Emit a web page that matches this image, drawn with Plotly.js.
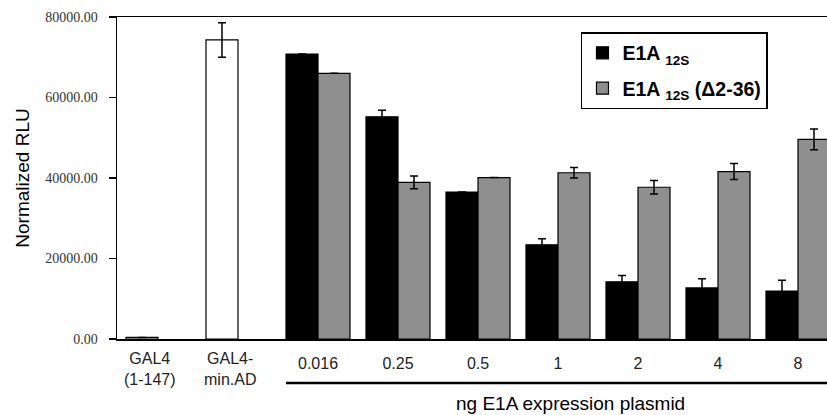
<!DOCTYPE html>
<html>
<head>
<meta charset="utf-8">
<script src="https://cdn.plot.ly/plotly-3.0.1.min.js"></script>
<style>html,body{margin:0;padding:0;background:#fff;}#chart{width:827px;height:415px;}</style>
</head>
<body>
<div id="chart"></div>
<script>
// ---- data ----
const categories = ['GAL4<br>(1-147)', 'GAL4-<br>min.AD', '0.016', '0.25', '0.5', '1', '2', '4', '8'];
const controlCats = ['GAL4<br>(1-147)', 'GAL4-<br>min.AD'];
const controlValues = [400, 74300];
const controlErr = [0, 4300];
const doseCats = ['0.016', '0.25', '0.5', '1', '2', '4', '8'];
const wtName = '<b>E1A <sub>12S</sub></b>';
const wtValues = [70800, 55200, 36500, 23400, 14200, 12700, 11900];
const wtErr = [0, 1650, 0, 1500, 1600, 2300, 2700];
const delName = '<b>E1A <sub>12S</sub> (\u03942-36)</b>';
const delValues = [66000, 38900, 40100, 41300, 37700, 41600, 49600];
const delErr = [0, 1600, 0, 1300, 1700, 2000, 2600];
const yTicks = [0, 20000, 40000, 60000, 80000];
const yTickText = ['0.00', '20000.00', '40000.00', '60000.00', '80000.00'];
const xTitle = 'ng E1A expression plasmid';
const yTitle = 'Normalized RLU';

const barW = 0.4;
const sans = 'Liberation Sans, Arial, sans-serif';
const errStyle = (arr) => ({type: 'data', array: arr, visible: true, color: '#000', thickness: 1.5, width: 4});

const traces = [
  {type: 'bar', x: controlCats, y: controlValues, error_y: errStyle(controlErr),
   marker: {color: '#ffffff', line: {color: '#000', width: 1.2}},
   width: barW, offset: -barW, showlegend: false, hoverinfo: 'skip'},
  {type: 'bar', name: wtName, legendgroup: 'wt', x: doseCats, y: wtValues, error_y: errStyle(wtErr),
   marker: {color: '#000000', line: {color: '#000', width: 1.2}},
   width: barW, offset: -barW},
  {type: 'bar', name: delName, legendgroup: 'del', x: doseCats, y: delValues, error_y: errStyle(delErr),
   marker: {color: '#8f8f8f', line: {color: '#000', width: 1.2}},
   width: barW, offset: 0},
];

const firstDose = categories.indexOf(doseCats[0]);

const controlLabels = controlCats.map(c => ({
  text: c, xref: 'x', yref: 'paper', x: categories.indexOf(c), xshift: -8,
  y: -0.093, xanchor: 'center', yanchor: 'middle', showarrow: false,
  font: {family: sans, size: 16, color: '#222'}
}));

const layout = {
  width: 827, height: 415,
  margin: {l: 117, r: 0, t: 17, b: 76},
  paper_bgcolor: '#fff', plot_bgcolor: '#fff',
  barmode: 'overlay',
  showlegend: true,
  legend: {
    x: 0.6535, y: 0.953, xanchor: 'left', yanchor: 'top',
    bordercolor: '#000', borderwidth: 1.5, bgcolor: '#fff',
    font: {family: sans, size: 19.5, color: '#000'},
    tracegroupgap: 7, traceorder: 'grouped',
    entrywidth: 190, entrywidthmode: 'pixels'
  },
  xaxis: {
    type: 'category', categoryorder: 'array', categoryarray: categories,
    range: [-0.5125, 8.3625],
    tickmode: 'array', tickvals: doseCats, ticktext: doseCats,
    showline: true, linecolor: '#000', linewidth: 1.5, mirror: true,
    ticks: '', showgrid: false, zeroline: false,
    tickfont: {family: sans, size: 16, color: '#222'},
    ticklabelstandoff: 9,
    fixedrange: true
  },
  xaxis2: {
    type: 'linear', overlaying: 'x', anchor: 'y', side: 'bottom',
    range: [-0.5125, 8.3625],
    tickmode: 'array', tickvals: doseCats.map(c => categories.indexOf(c)),
    ticks: 'outside', ticklen: 9, tickwidth: 1.5, tickcolor: '#000',
    showticklabels: false, showline: false, showgrid: false, zeroline: false
  },
  yaxis: {
    range: [0, 80000],
    tickmode: 'array', tickvals: yTicks, ticktext: yTickText,
    ticks: 'outside', ticklen: 7, tickwidth: 1.5, tickcolor: '#000',
    showline: true, linecolor: '#000', linewidth: 1.5,
    showgrid: false, zeroline: false,
    tickfont: {family: 'Liberation Serif, Times New Roman, serif', size: 14, color: '#333'},
    ticklabelstandoff: 8,
    title: {text: yTitle, font: {family: sans, size: 19, color: '#000'}, standoff: 10}
  },
  shapes: [
    {type: 'line', xref: 'x', yref: 'paper', x0: firstDose - barW, x1: categories.length + 1,
     y0: -0.1366, y1: -0.1366, line: {color: '#000', width: 2.5}}
  ],
  annotations: controlLabels.concat([
    {text: xTitle, xref: 'paper', yref: 'paper', x: 0.639, y: -0.199,
     xanchor: 'center', yanchor: 'middle', showarrow: false,
     font: {family: sans, size: 19, color: '#000'}}
  ])
};

Plotly.newPlot('chart', traces, layout, {displayModeBar: false, staticPlot: true});
</script>
</body>
</html>
